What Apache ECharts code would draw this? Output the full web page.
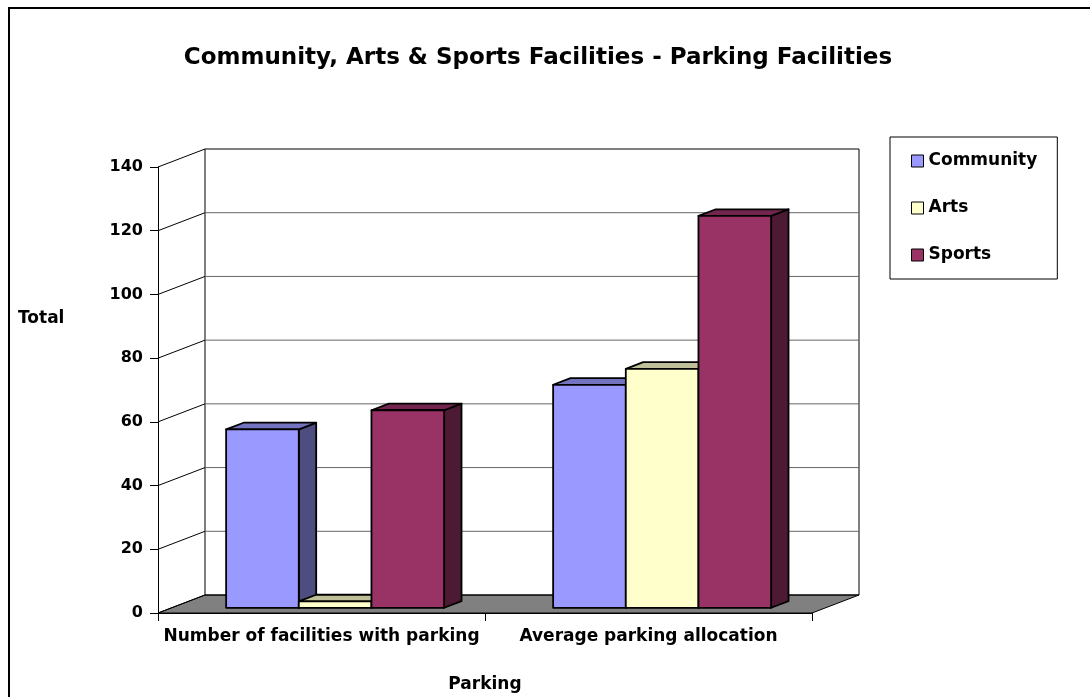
<!DOCTYPE html>
<html>
<head>
<meta charset="utf-8">
<script src="https://cdn.jsdelivr.net/npm/echarts@6/dist/echarts.min.js"></script>
<style>
html,body{margin:0;padding:0;background:#fff;}
#chart{width:1090px;height:697px;}
</style>
</head>
<body>
<div id="chart"></div>
<script>
// ---- data ----
const categories = ['Number of facilities with parking', 'Average parking allocation'];
const seriesNames = ['Community', 'Arts', 'Sports'];
const communityValues = [56, 70];
const artsValues = [2, 75];
const sportsValues = [62, 123];
const yTicks = [0, 20, 40, 60, 80, 100, 120, 140];

// ---- style constants ----
const FONT = 'DejaVu Sans';
const DX = 47, DY = -18;           // depth of the 3D box (pixels)
const FRONT_F = 0.29;              // bar front plane (fraction of depth)
const BAR_DEPTH_F = 0.37;          // bar depth (fraction of depth)
const BAR_FRACTION = 2 / 3;        // share of category band used by bars
const palettes = [
  {front: '#9999FF', top: '#7373BF', side: '#4D4D80'},
  {front: '#FFFFCC', top: '#BFBF99', side: '#808066'},
  {front: '#993366', top: '#73264D', side: '#4D1A33'}
];
const allValues = [communityValues, artsValues, sportsValues];

function barRenderer(sIdx) {
  const pal = palettes[sIdx];
  return function (params, api) {
    const cat = api.value(0), val = api.value(1);
    const base = api.coord([cat, 0]);
    const topP = api.coord([cat, val]);
    const band = api.size([1, 0])[0];
    const bw = band * BAR_FRACTION / seriesNames.length;
    const fx = DX * FRONT_F, fy = DY * FRONT_F;
    const bx = DX * BAR_DEPTH_F, by = DY * BAR_DEPTH_F;
    const xl = base[0] - band * BAR_FRACTION / 2 + sIdx * bw + fx;
    const xr = xl + bw;
    const yb = base[1] + fy;
    const yt = topP[1] + fy;
    const stroke = {stroke: '#000', lineWidth: 1.8, lineJoin: 'round'};
    return {
      type: 'group',
      children: [
        {type: 'polygon', shape: {points: [[xr, yt], [xr + bx, yt + by], [xr + bx, yb + by], [xr, yb]]},
          style: Object.assign({fill: pal.side}, stroke)},
        {type: 'polygon', shape: {points: [[xl, yt], [xr, yt], [xr + bx, yt + by], [xl + bx, yt + by]]},
          style: Object.assign({fill: pal.top}, stroke)},
        {type: 'rect', shape: {x: xl, y: yt, width: bw, height: yb - yt},
          style: Object.assign({fill: pal.front}, stroke)}
      ]
    };
  };
}

function wallRenderer(params, api) {
  const v = api.value(1);
  const cs = params.coordSys;
  const x0 = cs.x, x1 = cs.x + cs.width;
  const y = api.coord([0, v])[1];
  const y0 = api.coord([0, 0])[1];
  const yTop = api.coord([0, yTicks[yTicks.length - 1]])[1];
  const children = [];
  if (params.dataIndex === 0) {
    children.push({type: 'polygon', shape: {points: [[x0, y0], [x1, y0], [x1 + DX, y0 + DY], [x0 + DX, y0 + DY]]},
      style: {fill: '#808080', stroke: '#000', lineWidth: 1}});
    children.push({type: 'line', shape: {x1: x0 + DX, y1: y0 + DY, x2: x0 + DX, y2: yTop + DY},
      style: {stroke: '#000', lineWidth: 1}});
    children.push({type: 'line', shape: {x1: x1 + DX, y1: y0 + DY, x2: x1 + DX, y2: yTop + DY},
      style: {stroke: '#000', lineWidth: 1}});
  }
  children.push({type: 'line', shape: {x1: x0 + DX, y1: y + DY, x2: x1 + DX, y2: y + DY},
    style: {stroke: v === 0 || v === yTicks[yTicks.length - 1] ? '#000' : '#666', lineWidth: 1}});
  children.push({type: 'line', shape: {x1: x0, y1: y, x2: x0 + DX, y2: y + DY},
    style: {stroke: '#000', lineWidth: 1}});
  return {type: 'group', children: children};
}

const series = [{
  type: 'custom',
  name: 'walls',
  renderItem: wallRenderer,
  data: yTicks.map(v => [0, v]),
  encode: {x: 0, y: 1},
  silent: true,
  z: 1
}];
seriesNames.forEach((name, i) => {
  series.push({
    type: 'custom',
    name: name,
    renderItem: barRenderer(i),
    data: allValues[i].map((v, c) => [c, v]),
    encode: {x: 0, y: 1},
    itemStyle: {color: palettes[i].front},
    z: 2 + i
  });
});

const chart = echarts.init(document.getElementById('chart'), null, {renderer: 'canvas'});
chart.setOption({
  backgroundColor: '#fff',
  animation: false,
  title: {
    text: 'Community, Arts & Sports Facilities - Parking Facilities',
    left: 538, top: 47, padding: 0, textAlign: 'center',
    textStyle: {fontFamily: FONT, fontWeight: 'bold', fontSize: 23, color: '#000'}
  },
  legend: {
    data: seriesNames,
    orient: 'vertical',
    left: 890, top: 137,
    icon: 'rect',
    itemWidth: 12, itemHeight: 12,
    itemGap: 29,
    padding: [15, 20, 15, 21],
    borderColor: '#000', borderWidth: 1,
    backgroundColor: '#fff',
    itemStyle: {borderColor: '#000', borderWidth: 1},
    textStyle: {fontFamily: FONT, fontWeight: 'bold', fontSize: 17, color: '#000', lineHeight: 18},
    selectedMode: false
  },
  grid: {left: 158, right: 278, top: 167, bottom: 84, containLabel: false},
  xAxis: {
    type: 'category',
    data: categories,
    boundaryGap: true,
    axisLine: {lineStyle: {color: '#000', width: 1}},
    axisTick: {show: true, length: 8, lineStyle: {color: '#000'}},
    axisLabel: {fontFamily: FONT, fontWeight: 'bold', fontSize: 17, color: '#000', margin: 15, interval: 0},
    splitLine: {show: false}
  },
  yAxis: {
    type: 'value',
    min: 0, max: 140, interval: 20,
    axisLine: {show: true, lineStyle: {color: '#000', width: 1}},
    axisTick: {show: true, length: 8, lineStyle: {color: '#000'}},
    axisLabel: {fontFamily: FONT, fontWeight: 'bold', fontSize: 16, color: '#000', margin: 15},
    splitLine: {show: false}
  },
  graphic: [
    {type: 'rect', shape: {x: 9, y: 8, width: 1200, height: 800}, style: {fill: 'none', stroke: '#000', lineWidth: 2}, silent: true},
    {type: 'text', x: 18, y: 319, style: {text: 'Total', fontFamily: FONT, fontWeight: 'bold', fontSize: 17, fill: '#000', textAlign: 'left', textVerticalAlign: 'middle'}},
    {type: 'text', x: 485, y: 685, style: {text: 'Parking', fontFamily: FONT, fontWeight: 'bold', fontSize: 17, fill: '#000', textAlign: 'center', textVerticalAlign: 'middle'}}
  ],
  series: series
});
</script>
</body>
</html>
